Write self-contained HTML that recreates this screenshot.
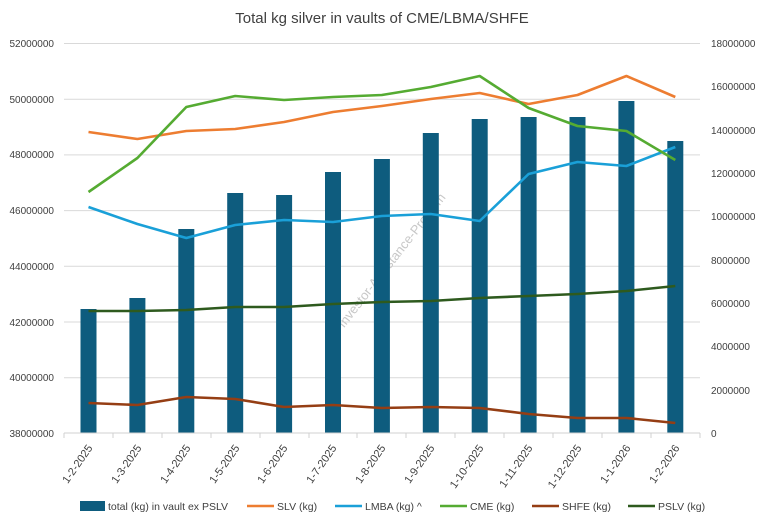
<!DOCTYPE html>
<html><head><style>body{margin:0;background:#fff}svg{display:block;font-family:"Liberation Sans",sans-serif}</style></head><body>
<svg width="765" height="526" viewBox="0 0 765 526">
<rect width="765" height="526" fill="#fff"/>
<text x="382" y="23" font-size="15" text-anchor="middle" fill="#404040">Total kg silver in vaults of CME/LBMA/SHFE</text>
<g stroke="#d9d9d9" stroke-width="1">
<line x1="64" y1="43.5" x2="700" y2="43.5"/><line x1="64" y1="99.2" x2="700" y2="99.2"/><line x1="64" y1="154.9" x2="700" y2="154.9"/><line x1="64" y1="210.6" x2="700" y2="210.6"/><line x1="64" y1="266.3" x2="700" y2="266.3"/><line x1="64" y1="322" x2="700" y2="322"/><line x1="64" y1="377.7" x2="700" y2="377.7"/>
</g>
<g font-size="10" fill="#404040" text-anchor="end">
<text x="54" y="47">52000000</text><text x="54" y="103">50000000</text><text x="54" y="158">48000000</text><text x="54" y="214">46000000</text><text x="54" y="270">44000000</text><text x="54" y="326">42000000</text><text x="54" y="381">40000000</text><text x="54" y="437">38000000</text>
</g>
<g font-size="10" fill="#404040" text-anchor="start">
<text x="711" y="47">18000000</text><text x="711" y="90">16000000</text><text x="711" y="134">14000000</text><text x="711" y="177">12000000</text><text x="711" y="220">10000000</text><text x="711" y="264">8000000</text><text x="711" y="307">6000000</text><text x="711" y="350">4000000</text><text x="711" y="394">2000000</text><text x="711" y="437">0</text>
</g>
<text x="395" y="263" font-size="13" fill="#c8c8c8" text-anchor="middle" transform="rotate(-52 395 263)">Investor-Assistance-Pro.com</text>
<g fill="#0e5c7e">
<rect x="80.5" y="309" width="16" height="124"/><rect x="129.4" y="298" width="16" height="135"/><rect x="178.3" y="229" width="16" height="204"/><rect x="227.2" y="193" width="16" height="240"/><rect x="276.1" y="195" width="16" height="238"/><rect x="325" y="172" width="16" height="261"/><rect x="373.9" y="159" width="16" height="274"/><rect x="422.8" y="133" width="16" height="300"/><rect x="471.7" y="119" width="16" height="314"/><rect x="520.6" y="117" width="16" height="316"/><rect x="569.5" y="117" width="16" height="316"/><rect x="618.4" y="101" width="16" height="332"/><rect x="667.3" y="141" width="16" height="292"/>
</g>
<line x1="64" y1="433" x2="700" y2="433" stroke="#d0d0d0"/>
<g stroke="#d0d0d0"><line x1="64" y1="433" x2="64" y2="438"/><line x1="113" y1="433" x2="113" y2="438"/><line x1="162" y1="433" x2="162" y2="438"/><line x1="211" y1="433" x2="211" y2="438"/><line x1="260" y1="433" x2="260" y2="438"/><line x1="309" y1="433" x2="309" y2="438"/><line x1="357" y1="433" x2="357" y2="438"/><line x1="406" y1="433" x2="406" y2="438"/><line x1="455" y1="433" x2="455" y2="438"/><line x1="504" y1="433" x2="504" y2="438"/><line x1="553" y1="433" x2="553" y2="438"/><line x1="602" y1="433" x2="602" y2="438"/><line x1="651" y1="433" x2="651" y2="438"/><line x1="700" y1="433" x2="700" y2="438"/></g>
<g fill="none" stroke-width="2.6" stroke-linejoin="round">
<polyline stroke="#ed7d31" points="88.5,132 137.4,139 186.3,131 235.2,129 284.1,122 333,112 381.9,106 430.8,99 479.7,93 528.6,104 577.5,95 626.4,76 675.3,97"/>
<polyline stroke="#1aa0d8" points="88.5,207 137.4,224 186.3,238 235.2,225 284.1,220 333,222 381.9,216 430.8,214 479.7,221 528.6,174 577.5,162 626.4,166 675.3,147"/>
<polyline stroke="#55ab32" points="88.5,192 137.4,158 186.3,107 235.2,96 284.1,100 333,97 381.9,95 430.8,87 479.7,76 528.6,108 577.5,126 626.4,131 675.3,160"/>
<polyline stroke="#953e14" points="88.5,403 137.4,405 186.3,397 235.2,399 284.1,407 333,405 381.9,408 430.8,407 479.7,408 528.6,414 577.5,418 626.4,418 675.3,423"/>
<polyline stroke="#2e5a1e" points="88.5,311 137.4,311 186.3,310 235.2,307 284.1,307 333,304 381.9,302 430.8,301 479.7,298 528.6,296 577.5,294 626.4,291 675.3,286"/>
</g>
<g font-size="11" fill="#404040" text-anchor="end">
<text transform="translate(93,448) rotate(-55)">1-2-2025</text><text transform="translate(142,448) rotate(-55)">1-3-2025</text><text transform="translate(191,448) rotate(-55)">1-4-2025</text><text transform="translate(240,448) rotate(-55)">1-5-2025</text><text transform="translate(288,448) rotate(-55)">1-6-2025</text><text transform="translate(337,448) rotate(-55)">1-7-2025</text><text transform="translate(386,448) rotate(-55)">1-8-2025</text><text transform="translate(435,448) rotate(-55)">1-9-2025</text><text transform="translate(484,448) rotate(-55)">1-10-2025</text><text transform="translate(533,448) rotate(-55)">1-11-2025</text><text transform="translate(582,448) rotate(-55)">1-12-2025</text><text transform="translate(631,448) rotate(-55)">1-1-2026</text><text transform="translate(680,448) rotate(-55)">1-2-2026</text>
</g>
<g font-size="10.5" fill="#404040">
<rect x="80" y="501" width="25" height="10" fill="#0e5c7e"/><text x="108" y="510">total (kg) in vault ex PSLV</text>
<line x1="247" y1="506" x2="274" y2="506" stroke="#ed7d31" stroke-width="2.6"/><text x="277" y="510">SLV (kg)</text>
<line x1="335" y1="506" x2="362" y2="506" stroke="#1aa0d8" stroke-width="2.6"/><text x="365" y="510">LMBA (kg) ^</text>
<line x1="440" y1="506" x2="467" y2="506" stroke="#55ab32" stroke-width="2.6"/><text x="470" y="510">CME (kg)</text>
<line x1="532" y1="506" x2="559" y2="506" stroke="#953e14" stroke-width="2.6"/><text x="562" y="510">SHFE (kg)</text>
<line x1="628" y1="506" x2="655" y2="506" stroke="#2e5a1e" stroke-width="2.6"/><text x="658" y="510">PSLV (kg)</text>
</g>
</svg>
</body></html>
